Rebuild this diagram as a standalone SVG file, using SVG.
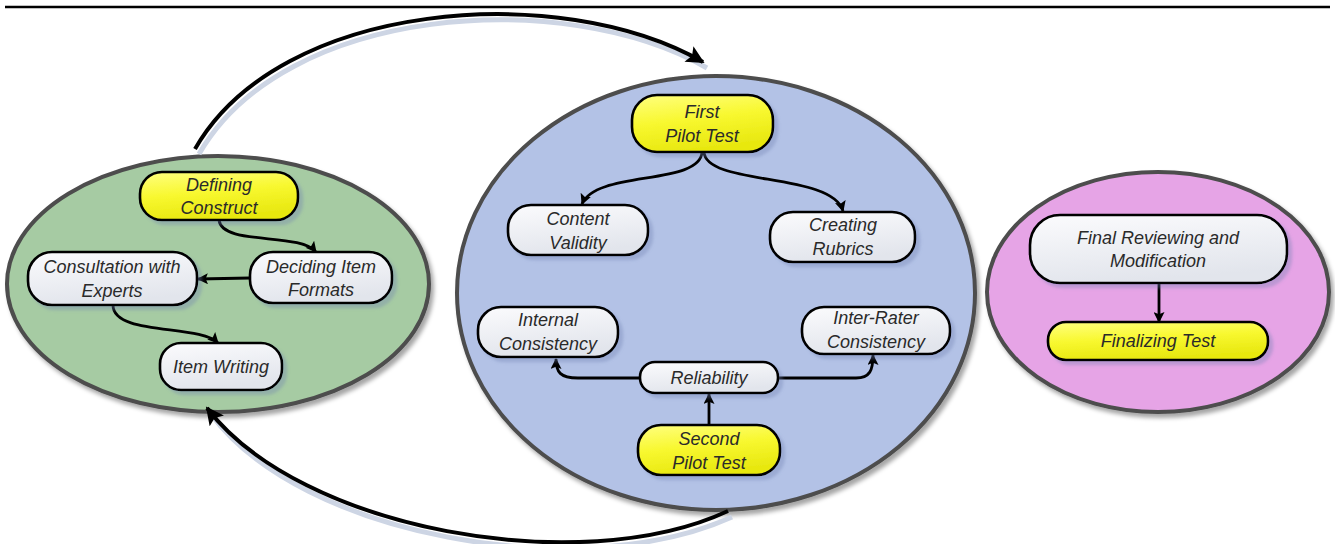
<svg xmlns="http://www.w3.org/2000/svg" width="1335" height="544" viewBox="0 0 1335 544">
<defs>
  <style>
    .stage{stroke:#4d4d4d;stroke-width:4;filter:url(#sh)}
    .node{fill:url(#gw);stroke:#000;stroke-width:2.6;filter:url(#nsh)}
    .ynode{fill:url(#gy);stroke:#000;stroke-width:2.6;filter:url(#nsh)}
    .t{font-family:"Liberation Sans",Arial,sans-serif;font-style:italic;font-size:18px;fill:#2a2a2a;text-anchor:middle}
    .c{fill:none;stroke:#000;stroke-width:2.8;marker-end:url(#a)}
    .big{fill:none;stroke:#000;stroke-width:4;marker-end:url(#ab)}
    .bigsh{fill:none;stroke:#cdd5e4;stroke-width:5}
  </style>
  <linearGradient id="gw" x1="0" y1="0" x2="0.3" y2="1">
    <stop offset="0" stop-color="#fbfbfd"/>
    <stop offset="1" stop-color="#e2e5ec"/>
  </linearGradient>
  <linearGradient id="gy" x1="0" y1="0" x2="0.3" y2="1">
    <stop offset="0" stop-color="#ffff80"/>
    <stop offset="0.5" stop-color="#f8f830"/>
    <stop offset="1" stop-color="#e8e810"/>
  </linearGradient>
  <filter id="sh" x="-10%" y="-10%" width="125%" height="125%">
    <feDropShadow dx="3" dy="4" stdDeviation="2" flood-color="#000" flood-opacity="0.35"/>
  </filter>
  <filter id="nsh" x="-10%" y="-10%" width="130%" height="140%">
    <feDropShadow dx="4" dy="4" stdDeviation="1.5" flood-color="#7080b0" flood-opacity="0.35"/>
  </filter>
  <marker id="a" viewBox="0 0 10 10" refX="9" refY="5" markerWidth="16" markerHeight="11" markerUnits="userSpaceOnUse" orient="auto">
    <path d="M0,0 L10,5 L0,10 L2,5 Z" fill="#000"/>
  </marker>
  <marker id="ab" viewBox="0 0 10 10" refX="9" refY="5" markerWidth="22" markerHeight="18" markerUnits="userSpaceOnUse" orient="auto">
    <path d="M0,0 L10,5 L0,10 L2,5 Z" fill="#000"/>
  </marker>
</defs>

<line x1="5" y1="7" x2="1330" y2="7" stroke="#000" stroke-width="2.5"/>

<g id="stage-design">
  <ellipse class="stage" cx="218" cy="284" rx="211" ry="128" fill="#a6cba3"/>
</g>
<g id="stage-pilot">
  <ellipse class="stage" cx="716" cy="293" rx="259" ry="217" fill="#b3c2e6"/>
</g>
<g id="stage-final">
  <ellipse class="stage" cx="1158" cy="292" rx="171" ry="120" fill="#e6a4e6"/>
</g>

<g id="connectors">
  <path class="bigsh" d="M199,154 C284,5 564,-14 707,68"/>
  <path class="big" d="M195,149 C280,0 560,-20 703,62"/>
  <path class="bigsh" d="M732,517 C580,586 300,536 211,414"/>
  <path class="big" d="M728,511 C580,580 300,530 207,408"/>
  <path class="c" d="M219,220 C222,246 300,232 316,252"/>
  <path class="c" d="M250,278 L198,279"/>
  <path class="c" d="M113,305 C113,336 200,324 218,343"/>
  <path class="c" d="M702,152 C700,186 596,170 582,204"/>
  <path class="c" d="M704,152 C706,186 832,172 843,211"/>
  <path class="c" d="M640,378 L578,378 C560,378 556,372 556,359"/>
  <path class="c" d="M778,378 L856,378 C870,378 873,370 873,355"/>
  <path class="c" d="M709,425 L709,394"/>
  <path class="c" d="M1159,283 L1159,322"/>
</g>

<g id="defining-construct">
  <rect class="ynode" x="140" y="172" width="158" height="48" rx="22"/>
  <text class="t" x="219" y="191">Defining</text>
  <text class="t" x="219" y="214">Construct</text>
</g>
<g id="deciding-item-formats">
  <rect class="node" x="250" y="252" width="142" height="51" rx="23"/>
  <text class="t" x="321" y="273">Deciding Item</text>
  <text class="t" x="321" y="296">Formats</text>
</g>
<g id="consultation-with-experts">
  <rect class="node" x="28" y="252" width="169" height="53" rx="24"/>
  <text class="t" x="112" y="273">Consultation with</text>
  <text class="t" x="112" y="297">Experts</text>
</g>
<g id="item-writing">
  <rect class="node" x="160" y="343" width="122" height="47" rx="21"/>
  <text class="t" x="221" y="373">Item Writing</text>
</g>

<g id="first-pilot-test">
  <rect class="ynode" x="632" y="95" width="141" height="57" rx="25"/>
  <text class="t" x="702" y="118">First</text>
  <text class="t" x="702" y="142">Pilot Test</text>
</g>
<g id="content-validity">
  <rect class="node" x="508" y="205" width="140" height="50" rx="23"/>
  <text class="t" x="578" y="225">Content</text>
  <text class="t" x="578" y="249">Validity</text>
</g>
<g id="creating-rubrics">
  <rect class="node" x="770" y="212" width="145" height="50" rx="23"/>
  <text class="t" x="843" y="231">Creating</text>
  <text class="t" x="843" y="255">Rubrics</text>
</g>
<g id="internal-consistency">
  <rect class="node" x="478" y="307" width="140" height="50" rx="23"/>
  <text class="t" x="548" y="326">Internal</text>
  <text class="t" x="548" y="350">Consistency</text>
</g>
<g id="inter-rater-consistency">
  <rect class="node" x="802" y="307" width="148" height="47" rx="22"/>
  <text class="t" x="876" y="324">Inter-Rater</text>
  <text class="t" x="876" y="348">Consistency</text>
</g>
<g id="reliability">
  <rect class="node" x="640" y="362" width="138" height="31" rx="15"/>
  <text class="t" x="709" y="384">Reliability</text>
</g>
<g id="second-pilot-test">
  <rect class="ynode" x="638" y="425" width="142" height="50" rx="23"/>
  <text class="t" x="709" y="445">Second</text>
  <text class="t" x="709" y="469">Pilot Test</text>
</g>

<g id="final-reviewing">
  <rect class="node" x="1030" y="215" width="257" height="68" rx="30"/>
  <text class="t" x="1158" y="244">Final Reviewing and</text>
  <text class="t" x="1158" y="267">Modification</text>
</g>
<g id="finalizing-test">
  <rect class="ynode" x="1048" y="322" width="220" height="38" rx="18"/>
  <text class="t" x="1158" y="347">Finalizing Test</text>
</g>
</svg>
